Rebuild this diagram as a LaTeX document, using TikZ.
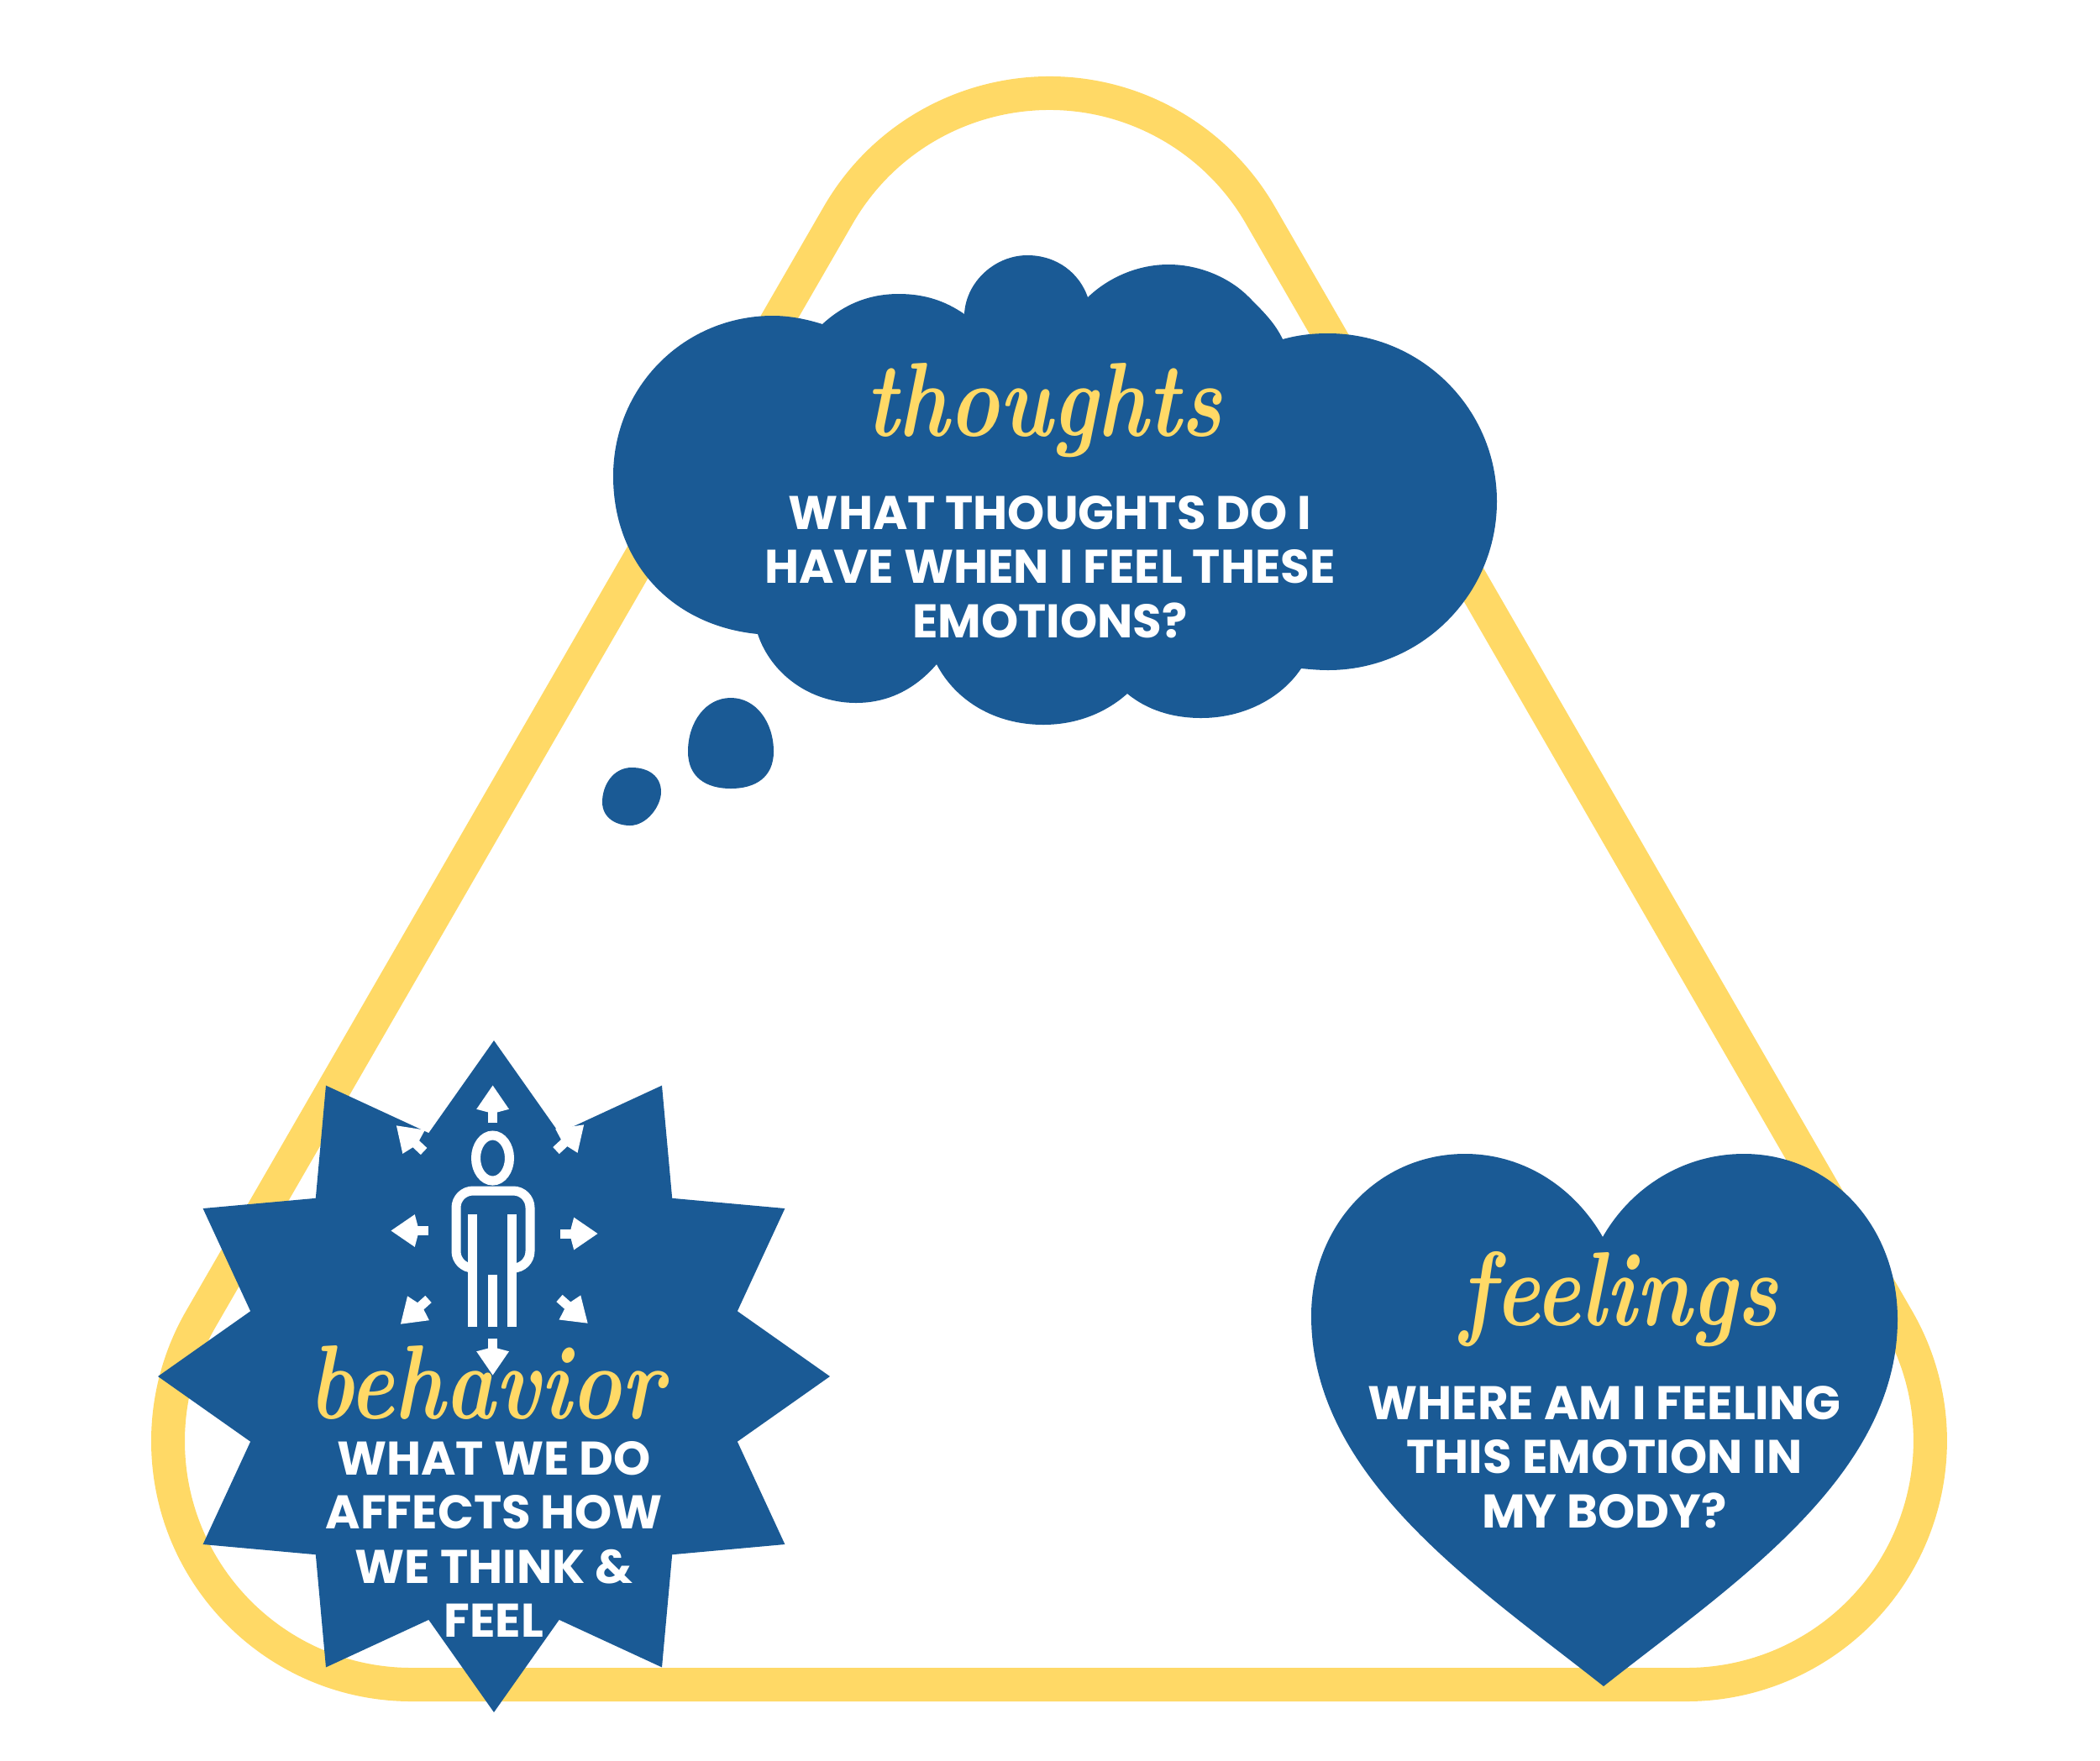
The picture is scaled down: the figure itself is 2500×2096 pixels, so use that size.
\documentclass[tikz,border=0pt]{standalone}
\usepackage{fontspec}
\usetikzlibrary{arrows.meta,shapes.geometric}
\newfontfamily\capsfont{Poppins}
\definecolor{calmblue}{HTML}{1A5A95}
\definecolor{softyellow}{HTML}{FFD966}
\newcommand{\Capsize}{\fontsize{16pt}{18.35pt}\selectfont\capsfont\bfseries}
\newcommand{\Wordsize}{\fontsize{34pt}{36pt}\selectfont\bfseries\itshape}
\newcommand{\Scriptword}[1]{\scalebox{0.85}[1.05]{#1}}

\begin{document}
\begin{tikzpicture}[x=0.1mm,y=-0.1mm,
    shapefill/.style={fill=calmblue},
    captext/.style={text=white,font=\Capsize,align=center,inner sep=0pt},
    wordtext/.style={text=softyellow,font=\Wordsize,inner sep=0pt},
    iconline/.style={draw=white,line width=1.1mm},
    iconarrow/.style={iconline,-{Stealth[length=2.8mm,width=3.5mm,inset=-0.6mm]}}]
  \useasboundingbox (0,0) rectangle (2500,2096);
  % rounded triangle behind everything
  \draw[softyellow,line width=4mm] (490,2006) arc[start angle=90,delta angle=120,radius=290]
     -- (998,256) arc[start angle=210,delta angle=120,radius=290]
     -- (2259,1571) arc[start angle=330,delta angle=120,radius=290] -- cycle;
  % thought cloud
  \fill[shapefill] (902,755) .. controls (800,745) and (730,670) .. (730,567)
     .. controls (730,460) and (815,376) .. (920,376) .. controls (940,376) and (960,380) .. (979,386)
     .. controls (1005,362) and (1035,350) .. (1070,350) .. controls (1100,350) and (1125,358) .. (1148,374)
     .. controls (1150,335) and (1185,304) .. (1223,304) .. controls (1258,304) and (1285,325) .. (1295,354)
     .. controls (1320,330) and (1355,315) .. (1391,315) .. controls (1430,315) and (1465,332) .. (1486,353)
     .. controls (1505,372) and (1518,385) .. (1527,404) .. controls (1545,399) and (1562,397) .. (1581,397)
     .. controls (1692,397) and (1782,487) .. (1782,597) .. controls (1782,708) and (1692,798) .. (1581,798)
     .. controls (1570,798) and (1560,797) .. (1549,796) .. controls (1525,832) and (1480,855) .. (1430,855)
     .. controls (1395,855) and (1365,845) .. (1342,826) .. controls (1315,850) and (1280,863) .. (1242,863)
     .. controls (1185,863) and (1138,835) .. (1115,791) .. controls (1090,820) and (1058,837) .. (1019,837)
     .. controls (965,837) and (918,803) .. (902,755) -- cycle;
  \fill[shapefill] (870,831) .. controls (900,831) and (921,860) .. (921,895)
     .. controls (921,925) and (900,939) .. (870,939) .. controls (840,939) and (819,925) .. (819,895)
     .. controls (819,860) and (840,831) .. (870,831) -- cycle;
  \fill[shapefill] (752,914) .. controls (773,914) and (787,925) .. (787,943)
     .. controls (787,960) and (770,983) .. (750,983) .. controls (735,983) and (717,975) .. (717,955)
     .. controls (717,935) and (730,914) .. (752,914) -- cycle;
  \node[wordtext] (thoughtsword) at (1243,489) {\Scriptword{thoughts}};
  \node[captext] (thoughtscaps) at (1250,675) {WHAT THOUGHTS DO I\\HAVE WHEN I FEEL THESE\\EMOTIONS?};
  % heart
  \fill[shapefill] (1909,2008) .. controls (1760,1890) and (1561,1760) .. (1561,1567)
     .. controls (1561,1460) and (1640,1374) .. (1744,1374) .. controls (1815,1374) and (1875,1415) .. (1908,1473)
     .. controls (1941,1415) and (2003,1374) .. (2076,1374) .. controls (2180,1374) and (2259,1460) .. (2259,1571)
     .. controls (2259,1760) and (2058,1890) .. (1909,2008) -- cycle;
  \node[wordtext] (feelingsword) at (1928,1547) {\Scriptword{feelings}};
  \node[captext] (feelingscaps) at (1910,1735) {WHERE AM I FEELING\\THIS EMOTION IN\\MY BODY?};
  % burst and person
  \node[star,star points=12,star point ratio=1.3333,minimum size=80mm,shapefill,inner sep=0pt] (burst) at (588,1639) {};
  \draw[iconline] (586.5,1379) ellipse[x radius=20,y radius=27];
  \draw[iconline,rounded corners=2mm] (562,1510) -- (543,1510) -- (543,1418) -- (631,1418) -- (631,1510) -- (609,1510);
  \draw[iconline] (562.5,1446) -- (562.5,1580);
  \draw[iconline] (609,1446) -- (609,1580);
  \draw[iconline] (586,1518) -- (586,1580);
  \foreach \tailx/\taily/\tipx/\tipy in {586.6/1337/586.6/1292,662/1370/695.5/1339,667/1469/712/1469,
      666/1546/700/1576,586.6/1594/586.6/1638,510/1547/476.6/1577,510/1465.5/465/1465.5,504.6/1371/471.6/1340}
    \draw[iconarrow] (\tailx,\taily) -- (\tipx,\tipy);
  \node[wordtext] (behaviorword) at (579,1646) {\Scriptword{behavior}};
  \node[captext] (behaviorcaps) at (588,1833) {WHAT WE DO\\AFFECTS HOW\\WE THINK \&\\FEEL};
\end{tikzpicture}
\end{document}
